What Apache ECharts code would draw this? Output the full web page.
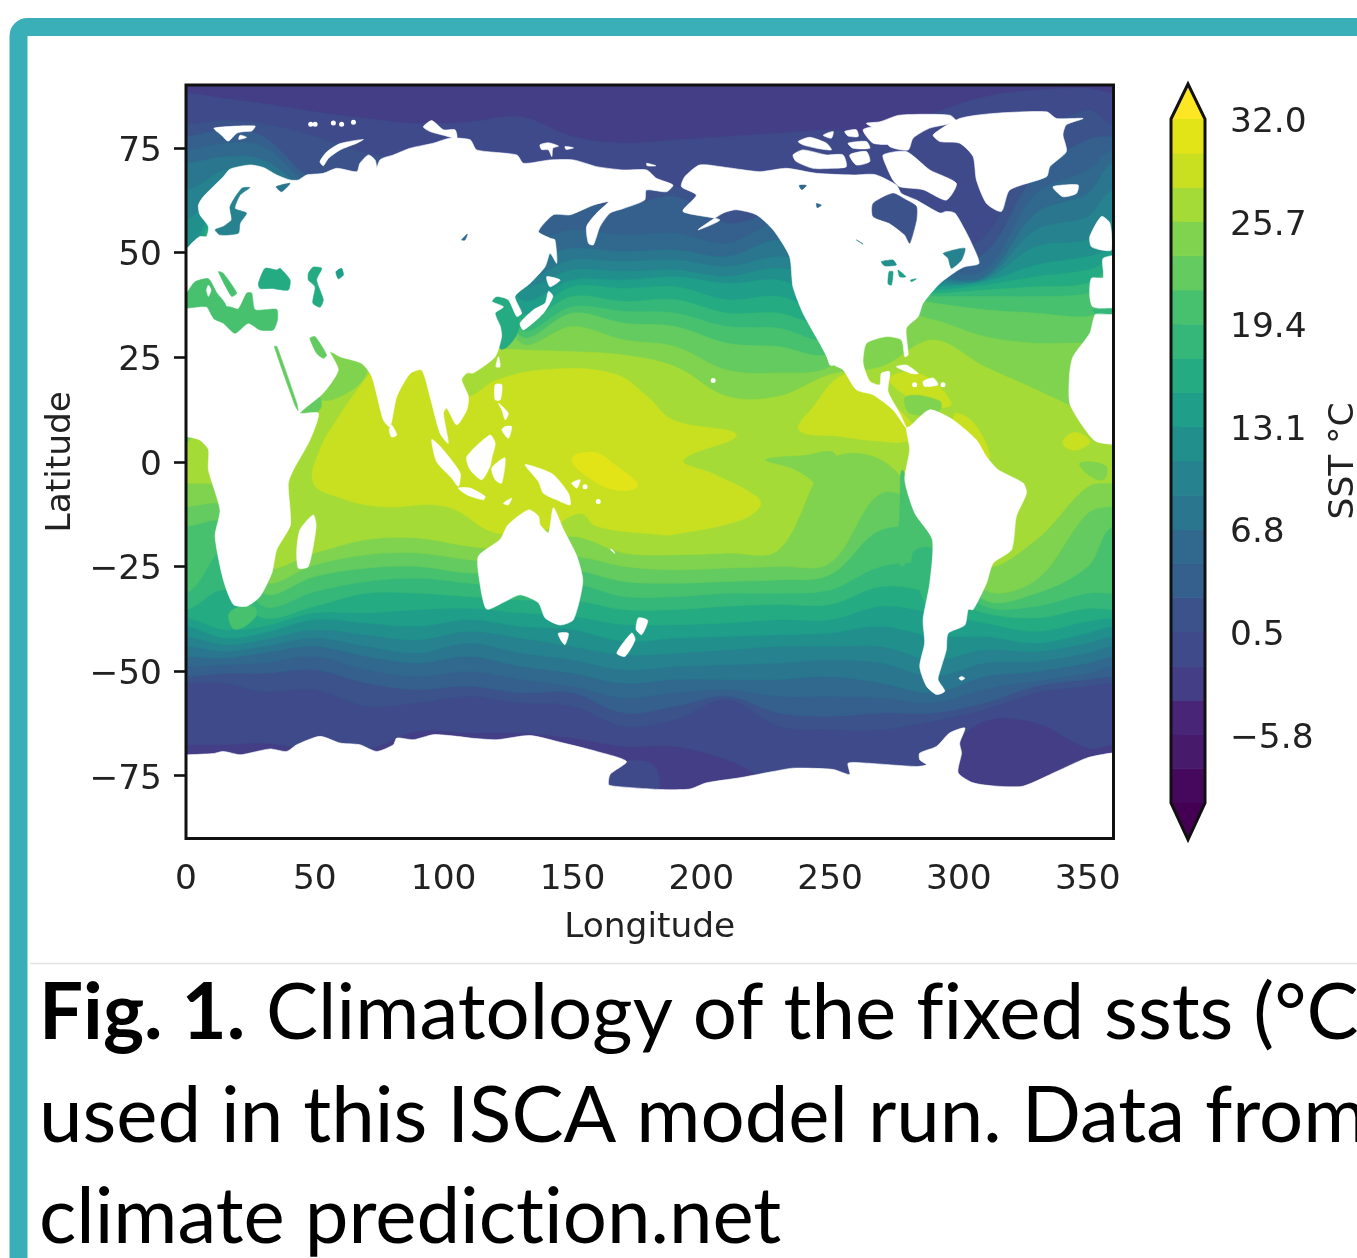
<!DOCTYPE html>
<html><head><meta charset="utf-8">
<style>html,body{margin:0;padding:0;background:#fff;overflow:hidden}#c{width:1357px;height:1258px;filter:blur(0.6px)}</style>
<script src="https://cdn.jsdelivr.net/npm/echarts@6/dist/echarts.min.js"></script>
</head><body><div id="c"></div>
<script>
const longitudeTicks=[0,50,100,150,200,250,300,350];
const latitudeTicks=[-75,-50,-25,0,25,50,75];
const colorbarTicks=[-5.8,0.5,6.8,13.1,19.4,25.7,32.0];
const contourLevels=[-10,-7.9,-5.8,-3.7,-1.6,0.5,2.6,4.7,6.8,8.9,11,13.1,15.2,17.3,19.4,21.5,23.6,25.7,27.8,29.9,32];
const bandColors=['#46085c','#481a6c','#482576','#433e85','#3f4a8a','#3b528b','#35608d','#31688e','#2a768e','#26828e','#21908d','#1f9e89','#25ab82','#35b779','#48c16e','#63cb5f','#7fd34e','#a5db36','#c8e020','#e3e418'];
const overColor='#fde725', underColor='#440154';

const stationLongitudes=[0,15,30,50,70,90,110,130,150,170,190,210,230,250,270,290,310,330,350,360];
const isothermLevels=[-1.6,0.5,2.6,4.7,6.8,8.9,11,13.1,15.2,17.3,19.4,21.5,23.6,25.7];
const southEdge=[
[-67.6,-67.6,-67.2,-68.8,-68.8,-64.4,-64.8,-64.8,-66,-68,-68,-71.2,-76.7,-76.7,-76.7,-71.2,-62,-62.4,-68.4,-67.6],
[-52.9,-52.9,-54.9,-54.4,-58.4,-57.6,-56,-57.6,-58.4,-63.2,-61.6,-56.8,-63.2,-64,-64,-62,-59.2,-55.2,-53.6,-52.9],
[-51.3,-50.5,-50.5,-49.7,-52.9,-54.4,-53.6,-55.2,-55.2,-60,-58.4,-56,-60,-60.8,-60,-60,-57.6,-53.6,-52,-51.3],
[-48.9,-48.5,-48.1,-46.5,-49.7,-51.3,-50.1,-52,-53.6,-56.4,-55.2,-54.4,-56,-56,-56.4,-57.6,-54.4,-52.4,-50.5,-48.9],
[-46.5,-46.9,-45.7,-44.1,-46.5,-48.1,-46.5,-48.9,-50.5,-52.9,-52,-52,-52,-51.3,-52.9,-55.2,-51.3,-50.1,-48.1,-46.5],
[-44.1,-45.3,-44.1,-42.1,-44.1,-45.7,-43.3,-45.7,-47.3,-49.7,-48.9,-48.5,-48.1,-47.3,-48.1,-51.3,-48.1,-47.7,-45.7,-44.1],
[-41.7,-43.7,-42.5,-40.1,-41.3,-42.5,-40.5,-42.1,-44.1,-46.1,-45.7,-44.9,-44.1,-44.1,-44.1,-47.3,-44.9,-45.3,-43.3,-41.7],
[-39.3,-42.1,-40.9,-37.7,-38.5,-39.3,-37.7,-39.3,-40.1,-42.9,-42.1,-41.7,-41.3,-40.9,-39.3,-41.7,-41.7,-43.3,-40.9,-39.3],
[-37.3,-40.1,-39.3,-36.1,-36.1,-35.3,-35,-36.1,-36.9,-38.9,-38.9,-38.5,-37.7,-37.7,-34.5,-36.1,-38.5,-40.5,-38.1,-37.3],
[-35.3,-30.6,-37.3,-34.5,-31.4,-31.4,-32.2,-33,-33,-35.3,-35.3,-34.5,-34.1,-34.1,-29.8,-31.4,-36.1,-37.3,-35,-35.3],
[-31.4,-21,-34.5,-31,-28.6,-27.8,-29,-29.8,-29,-32.2,-32.2,-31.4,-31.4,-30.6,-25,-25,-34.5,-34.5,-31.4,-31.4],
[-15.4,-14.6,-31.4,-27.4,-25.4,-25,-26.6,-26.6,-25.8,-28.6,-29,-28.6,-28.2,-27,-16.2,-17.8,-33,-31.4,-25,-15.4],
[-10.7,-10.7,-28.6,-24.6,-22.2,-21.8,-23.4,-24.2,-22.6,-25,-25.8,-25.4,-25,-24.2,-7.5,-13,-30.6,-28.2,-12.3,-10.7],
[-5.1,-6.7,-25,-21.8,-18.6,-18.2,-20.2,-21,-17.8,-21.8,-22.2,-21.8,-21,0.5,0.5,-13,-25,-18.6,-5.9,-5.1]];
const northEdge=[
[88,86.8,85.6,83.6,82,80.8,81.2,82.4,77.7,76.1,76.9,77.7,78.5,79.3,78.5,83.2,87.2,88.8,89.2,88],
[80.5,81.6,80.8,77.7,73.7,72.1,72.1,71.3,67.3,64.9,65.7,61,60.2,59.4,57.8,51.4,53.8,76.9,84,80.5],
[77.7,79.3,77.7,67.3,67.3,67.3,67.3,59.4,61.7,61,63.3,57,59.4,56.2,53,48.2,49.8,68.9,76.9,77.7],
[74.5,76.1,75.3,65.7,65.7,65.7,65.7,53,55.4,54.2,54.6,52.2,57,52.2,48.2,45.8,45.8,64.1,69.7,74.5],
[71.3,72.9,72.1,64.1,64.1,64.1,64.1,49,51,50.2,50.6,49,53,49,45.8,44.2,44.2,59.4,64.1,71.3],
[64.9,69.7,70.5,62.5,62.5,62.5,62.5,44.2,48.2,47.8,48.2,46.6,49,46.6,44.2,43.4,43.8,55.4,58.6,64.9],
[57.8,67.3,68.9,61,61,61,61,42.2,45.8,45.4,45.8,44.2,46.2,43.4,43.4,42.6,43.4,51.4,53,57.8],
[50.6,65.7,67.3,59.4,59.4,59.4,59.4,38.7,43.4,43.4,44.2,42.6,43.4,39.5,42.6,41.8,43,47,49,50.6],
[48.2,64.1,65.7,57.8,57.8,57.8,57.8,35.5,41.8,41.4,41.8,38.7,39.5,35.5,41.8,41,42.2,44.2,45.8,48.2],
[46.6,62.5,64.1,56.2,56.2,56.2,56.2,33.9,39.5,38.3,38.7,35.5,35.5,32.7,41,40.2,41,41.8,42.6,46.6],
[43.4,61,62.5,54.6,54.6,54.6,54.6,31.5,37,35.9,35.5,32.3,31.9,29.1,40.2,39.5,39.5,39.5,40.2,43.4],
[37,59.4,61,53,53,53,53,29.9,35.5,33.1,32.3,28.3,27.5,25.9,39.5,37.9,36.3,35.5,34.7,37],
[27.5,51.4,51.4,51.4,51.4,51.4,51.4,28.3,32.3,29.1,27.5,21.9,21.2,22.7,35.5,33.9,29.9,28.3,28.3,27.5],
[4.4,19.6,19.6,27.5,27.5,27.5,27.5,26.7,26.3,25.5,22.7,15.6,15.6,20.8,22.7,29.1,22.7,17.2,10.8,4.4]];

const warmPool278=[[49.4,-5],[52,2.9],[58.5,10],[67.5,18],[72.7,22],[80,26],[95,26],[100,20],[109,15.6],[120.6,19.5],[140,22],[166,21],[179,15.6],[189,10],[213.6,6.4],[193,0.4],[205,-3],[221.4,-8.3],[222.7,-10.7],[215,-14],[189,-17.4],[184,-17.4],[159.4,-15.4],[153,-12.3],[140,-16],[120.6,-17],[101,-10.7],[75.3,-10.7],[58.5,-8.3]];
const warmPool299=[[150,1],[153,2],[160,2],[167,-1],[175,-5],[174,-6.5],[165,-6.5],[157,-4],[151,-1]];
const eastPacificPool=[[238,7.6],[244,13.5],[253,20],[262,21],[270,16],[283,8],[280,5],[268,5],[255,6]];
const brazilPool=[[299,11.6],[306,9],[312,1],[307,1],[298,9]];
const guineaPool=[[340.4,5],[345,7],[350.8,5],[347,3],[342,3.2]];
const caribbeanPool=[[273,20],[285,21],[297,14],[290,13],[279,16]];
const caribbeanCool=[[279.6,15.6],[292.5,14.5],[292,12],[281,11.6]];
const equatorTongue=[[225,0.5],[240,1.5],[252,1.8],[252,-7.5],[247,-7],[242,-4],[235,-1.5]];
const peruCoast=[[278,-2],[283,-12],[289,-17],[289.5,-21],[282,-21],[278,-25],[276,-21],[277,-13]];
const chileCoast=[[282,-22],[289.5,-21],[289,-35],[285,-31]];
const guineaTongue=[[347,-0.3],[357,-1],[356,-4.3],[350,-3]];
const arabianSea=[[55.9,25.9],[67.5,25.1],[70.1,21.2],[62.4,16.4],[52,14.8],[50,19]];
const gulfOfAden=[[43.5,13],[51.4,15.5],[52,12.5],[44,10.6]];
const eastChinaSea=[[120,39.5],[125,38.7],[129,35],[128,30],[122,27],[119,35]];
const agulhasWarm=[[17,-36],[26,-34.5],[27,-37],[19,-40]];
const rossCorner=[[165,-73],[178,-71.5],[183,-74],[182.6,-78.5],[165,-78.5]];

const eurasiaAfrica=[[0.3,51],[2.2,52.2],[5.4,53.8],[8,53.8],[8.7,56.2],[5.4,59],[4.8,61.3],[6.7,63.3],[14.5,68.1],[17.1,69.9],[24.8,70.9],[30,70.3],[35.2,68.5],[40.4,67.3],[43.6,67.3],[46.8,68.5],[53.3,68.9],[58.5,70.1],[66.3,69.3],[67.5,71.3],[70.8,73.3],[73.4,72.1],[74,69.7],[72.7,66.9],[75.3,72.1],[80.5,73.3],[87,74.9],[96,76.1],[102.5,77.3],[110.3,76.9],[112.8,74.5],[128.4,73.3],[131,71.3],[141.3,72.1],[150.4,72.1],[159.4,70.5],[169.8,69.7],[178.8,69.7],[182.6,67.7],[189,66.1],[186.5,64.5],[178.7,64.9],[178,62.5],[169.8,60.5],[164.6,59.4],[160.7,56.2],[158.1,51.8],[156.2,52.2],[155.5,56.2],[159.4,59.4],[164,62.1],[158.1,61.3],[149.1,59],[142.6,59],[136.8,55],[141.3,53.4],[143.2,53],[143.9,47.4],[141.3,49.8],[139.4,46.6],[133.5,42.6],[127.7,39.5],[130.3,35.5],[128.4,34.7],[125.1,38.7],[120.6,39.5],[118.7,38.3],[123.2,37],[120,35.5],[122,32.3],[122.5,29.9],[120,25.1],[111.5,21.2],[109,21.2],[107,19.6],[109.6,15.6],[109,12.4],[105.1,8.8],[101.2,12.8],[99.9,11.6],[101.8,4.4],[98.6,6.8],[94.7,15.6],[91.5,21.9],[87,21.1],[81.8,15.6],[79.2,8.4],[76.6,10],[72.1,20.4],[68.2,23.5],[59.8,25.1],[55.9,26.3],[59.1,21.9],[53.3,16.4],[44.3,11.6],[51.4,11.6],[48.1,5.2],[41.7,-1.9],[39.7,-5.1],[40.4,-11.5],[40.4,-15.4],[35.2,-21],[33.3,-26.6],[28.7,-32.2],[23.6,-34.5],[18.4,-34.1],[14.5,-28.2],[11.3,-17.8],[13.2,-11.5],[8.7,-1.9],[8.7,2.9],[5.4,5.2],[0.3,6],[-5,6],[-5,51]];
const westAfrica=[[365,35.5],[353.4,35.5],[350.8,30.7],[344.3,25.1],[343,21.2],[343,14],[348.2,8.4],[353.4,4.8],[365,4.8]];
const iberiaFrance=[[351.4,43.8],[356,44],[356,48.6],[365,49],[365,36.7],[352.1,37],[350.8,39.5]];
const britain=[[350.8,53.8],[355.3,58.6],[358.6,57],[359.2,50.6],[355.3,50.6],[351.4,51.4]];
const iceland=[[336.5,65.7],[340.4,66.1],[346.3,66.1],[345.6,64.1],[340.4,63.3],[337.2,64.9]];
const greenland=[[290,78.1],[300.3,82],[313.3,83.2],[334,83.6],[337.9,82],[348.2,82],[341.7,80.5],[340.4,78.1],[341.7,74.1],[335.3,70.5],[334,68.1],[319.7,64.9],[316.5,59.8],[310.7,61.7],[306.8,67.3],[305.5,72.9],[300.3,76.1],[292.6,76.5]];
const ellesmere=[[269.3,81.2],[277,82.8],[296.4,82.8],[299,81.2],[288.7,79.7],[282.2,77.3],[280.3,74.5],[273.1,75.3],[270.6,78.5],[264.1,80.8]];
const baffin=[[270.6,73.3],[279.6,74.1],[288.7,69.7],[299,66.5],[295.1,62.5],[286.1,65],[277,65.7],[274.4,67.3],[271.9,70.5]];
const arcticIslands=[
[[237.6,76.5],[242.1,77.5],[248.6,76.1],[250.5,74.5],[244.7,74.9],[239.5,75.7]],
[[235.6,73.3],[239.5,74.5],[248.6,73.3],[255,73.3],[256.3,70.5],[251.2,70.1],[243.4,70.1],[236.9,71.7]],
[[247.3,78],[251.2,78.9],[250.5,77.3]],
[[255.7,78.9],[260.2,79.3],[260.9,77.7],[257,77.8]],
[[257,76.1],[264.1,76.5],[265.4,74.9],[258.9,74.9]],
[[257.6,73.3],[264.1,74.1],[265.4,71.7],[260.2,70.9]],
[[262.8,79.3],[269.3,80],[274.4,76.1],[266.7,76.1]]];
const northAmerica=[[193.6,68.1],[199.4,70.9],[209.7,70.3],[222.7,69.3],[233,70.1],[244.7,68.9],[258.9,68.5],[267.4,68.6],[275.7,66.1],[277.7,64.1],[283.5,62.5],[292.6,59.4],[295.1,59.8],[298.4,59.4],[302.3,55.4],[304.9,52.2],[307.8,47.4],[302.3,46.6],[299.7,45.8],[292.6,42.6],[286.1,37.9],[284.2,34.7],[279.6,31.9],[280.3,25.5],[279,25.1],[277.7,29.1],[271.9,29.9],[264.1,28.3],[262.8,23.6],[265.4,19.2],[269.3,18.4],[269.9,21.1],[273.1,21.5],[272.5,16.8],[277,11.6],[279.6,8],[274.4,12.4],[266.7,16],[260.2,17.2],[255,22],[250.5,23.5],[246,28.3],[239.5,35.5],[235.6,41.8],[234.3,49],[227.9,55.4],[221.4,59],[213.6,60.2],[208.5,59.4],[198.7,55.4],[207.2,57.8],[192.9,59.8],[198.1,63.7],[192.3,65.7]];
const bajaCalifornia=[[246,31.1],[247.3,30.7],[251.2,23.1],[249.9,23.1]];
const cuba=[[275.7,22.7],[279.6,23.1],[284.2,21.1],[281.6,21.1]];
const hispaniola=[[286.1,19.2],[290,20],[291.9,18.4],[286.7,18]];
const southAmerica=[[279.6,8],[280.9,8.4],[288.7,12.4],[297.7,10],[306.8,5.2],[310.7,1.2],[315.2,-1.9],[324.9,-5.1],[326.2,-7.5],[322.3,-13],[320.4,-21],[313.3,-24.2],[310.7,-29],[305.5,-35.3],[303.6,-35.3],[302.3,-39],[295.8,-41],[295.1,-44.9],[293.2,-48.9],[291.9,-52],[294.5,-54.8],[291.3,-55.6],[287.4,-53.6],[284.8,-48.9],[286.7,-43.3],[286.1,-37.7],[288.7,-29],[289.7,-18.6],[282.9,-12.3],[279,-4.3],[280.9,2.9]];
const antarctica=[[-5,-70],[0.3,-70],[10.6,-69.7],[14.5,-69.2],[21,-70],[26.1,-69.4],[32.6,-68.6],[39.1,-69.2],[43,-67.6],[52,-65.6],[59.8,-67.2],[67.5,-67.6],[74,-69.2],[80.5,-67.6],[81.8,-66],[88.3,-66.4],[96,-65.2],[105.1,-65.6],[110.3,-66],[120.6,-66.4],[133.5,-65.4],[146.5,-67.2],[159.4,-69.2],[171,-71.6],[164.6,-74.7],[164,-77.1],[165.9,-77.5],[184,-78.3],[195.5,-78.2],[202,-76.7],[214.9,-75.5],[227.9,-74],[235.6,-73.2],[251.2,-73.5],[257.6,-74.7],[257,-72],[264.1,-72],[283.5,-72.8],[287.4,-72.4],[284.8,-71.2],[284.8,-69.6],[291.3,-68],[296.4,-64.8],[302.3,-63.6],[300.3,-67.2],[301,-69.6],[299.7,-74.3],[305.5,-76.7],[314.6,-77.5],[324.9,-77.5],[337.9,-74],[349.5,-70.8],[359.2,-69.6],[365,-69.6],[365,-95],[-5,-95]];
const madagascar=[[49.4,-12.7],[50.5,-15.4],[47.5,-25],[43.6,-25.4],[43,-21],[44.3,-16.2]];
const australia=[[113.5,-22.6],[121.9,-18.6],[125.1,-15],[132.9,-11.5],[136.8,-13],[137.4,-15],[140.7,-17],[142.6,-11],[146.5,-16.2],[151.7,-22.6],[154,-28.6],[150.4,-37.7],[145.2,-39],[139.4,-37.3],[136.8,-33.7],[129.7,-31.8],[123.8,-33.4],[116.7,-35.2],[114.1,-29]];
const smallIslands=[
[[144.5,-41],[148.4,-41],[147.1,-43.7],[145.8,-42.9]],
[[175.6,-37.3],[179.2,-37.9],[176.9,-41.3],[174.7,-40.1]],
[[173,-40.9],[174.3,-42.5],[170.4,-46.5],[167.2,-45.7]],
[[109,1.2],[118,6.4],[120,4.4],[118.7,1],[118,-1.1],[114.8,-4.3],[110.3,-1.9]],
[[95.4,5.3],[98.9,3.5],[106.4,-2.7],[105.7,-5.9],[103.1,-3.9],[97.3,0]],
[[105.7,-6.3],[110.3,-6.3],[116.1,-8.3],[115.4,-9.1],[109,-7.9]],
[[118.7,-1.5],[123.8,0.9],[122.5,-5.1],[120,-4.3]],
[[120,18.4],[122.6,18.4],[122,14.8],[120,14.8]],
[[123.9,8.4],[126.4,8.4],[125.1,5.6],[122.6,7.6]],
[[121.3,14],[125.1,11.6],[123.9,10],[122.6,12.4]],
[[121.3,25.1],[121.9,22.7],[120.3,22.7]],
[[79.8,8.8],[81.8,6.4],[79.8,5.9],[78.9,7.6]],
[[140.7,40.7],[142.4,39.5],[138.7,35.5],[131,31.5],[129.7,33.1],[134.9,36.3],[139.4,37.9]],
[[140,44.2],[145.2,43.4],[141.3,41.8]],
[[131.6,-0.7],[136.8,-1.5],[142.6,-3.1],[148.4,-7.5],[149.1,-10.3],[143.9,-9.1],[138.7,-7.5],[136.8,-4.7]],
[[149.7,-5.1],[153,-4.3],[151.7,-6.3]],
[[123.2,-9.9],[126.4,-8.7],[125.1,-10.3]],
[[300,-51.7],[301,-51.3],[302.3,-51.7],[301,-52.2]],
[[164.6,-20.9],[166.5,-21.9],[165.5,-21]],
[[10.9,79.7],[26.8,80.2],[25.5,79],[22.9,78.9],[19.7,78.5],[16.4,76.6],[13.8,78]],
[[21,78],[23.5,77.5],[20.5,77]],
[[52,71.7],[54.6,74],[59.8,76],[68.8,77],[66.3,76.1],[59.8,74.5],[55.3,72.5],[53.3,70.7]],
[[92.1,80],[95.4,81.5],[99.9,79.3],[104.4,79.3],[105.1,77.3],[99.9,78],[94.7,78.9]],
[[137.4,75.7],[140.7,76.2],[144.6,75.4],[142.4,74.9],[142,72.9],[140.7,74.5],[138,74.6]],
[[147.1,75.3],[150.4,75],[147.5,74.6]],
[[178.8,71.3],[182.4,70.7],[179,70.7]]];
const tinyIslands=[[48.4,80.6],[50.1,80.6],[57.2,80.9],[60.4,80.6],[65,81.1],[204.6,19.4],[154.9,-6],[160,-9.5],[282.8,18.4],[293.8,18.4]];

const westMediterranean=[[-5,36.5],[0.3,40.3],[3.5,43],[8.7,43.7],[12,40.3],[15,38],[16,36],[10.6,34.5],[8,37],[0.3,36.7]];
const eastMediterranean=[[11.5,37],[17,37],[20.3,36.5],[23.6,40.3],[25.5,40.3],[26.8,36.3],[35.2,36.4],[35.5,33.9],[33.9,31.5],[28.7,31.5],[24.2,33.1],[19,30.7],[14.5,33.1],[10.6,34.3]];
const adriatic=[[12.6,45.4],[14.5,45],[19.7,40.3],[17.7,39.5]];
const corsica=[[8.7,42.2],[9.7,41],[8.7,39.5],[8,41]];
const alboran=[[352.1,36.3],[365,36.7],[365,35.5],[353,35.4]];
const blackSea=[[28.1,42.6],[30.7,46.2],[35.2,45.8],[36.5,46.2],[40.4,43.4],[39.7,41],[33.3,41.4],[28.7,41.4]];
const caspianSea=[[47.5,45],[49.4,46.5],[52.7,46.2],[50.7,43.4],[53.3,38.7],[52,36.9],[49.2,37.9],[50.1,41.8],[47.5,43.4]];
const aralSea=[[58.2,45.4],[60.4,46.2],[61.1,44.6],[59.1,43.7]];
const lakeBaikal=[[107,53],[109.2,54.4],[108.3,53]];
const balticSea=[[17.1,61],[21.6,65.3],[24.8,65.5],[21,63.7],[19,60.5],[23.5,59.4],[21,57],[20.3,54.6],[13.2,54.2],[11.3,55.4],[14.5,56.2],[17.7,57.8]];
const whiteSea=[[35,65.7],[40.4,66.5],[37.1,64.5]];
const redSea=[[34.3,27.5],[35.3,27.5],[43,14],[43.5,12.2],[42.3,13.5]];
const persianGulf=[[48.1,29.5],[50.1,29.9],[54.6,25.5],[53.3,24.7],[50.7,25.9]];
const hudsonBay=[[266.7,61.7],[274.4,64.1],[279.6,62.5],[283.5,61],[283.5,57.8],[280.9,52.2],[279,54.2],[273.1,57],[266.7,58.6]];
const gulfStLawrence=[[293.9,49.8],[302.3,51],[301,48.2],[297.1,46.2],[295.8,48.6]];
const lakeSuperior=[[269.9,47.8],[274.4,48.2],[275.7,47],[271.2,46.8]];
const lakeMichigan=[[272.9,45.4],[274.4,45.4],[273.8,42.2],[272.5,42.5]];
const lakeHuron=[[276.4,45.8],[279.4,44.2],[277,44.2]];
const lakeOntario=[[281.2,43.4],[283.5,43.7],[281.6,43]];
const lakeSlave=[[238,66],[240.8,66],[239,65]];
const lakeBear=[[244.7,61.7],[246.6,61.3],[245,60.7]];
const lakeWinnipeg=[[260.2,53],[262.8,52],[261.5,52.5]];

// The caption font would otherwise join "fi" and "ti"; the reference does not.
const drawText=CanvasRenderingContext2D.prototype.fillText;
CanvasRenderingContext2D.prototype.fillText=function(){
  if('textRendering' in this)this.textRendering='optimizeSpeed';
  return drawText.apply(this,arguments);
};

const band=v=>bandColors[contourLevels.indexOf(v)];
function isothermOutline(i){
  const s=southEdge[i],n=northEdge[i],pts=[[-30,s[0]]];
  stationLongitudes.forEach((x,k)=>pts.push([x,s[k]]));
  pts.push([390,s[s.length-1]],[390,n[n.length-1]]);
  for(let k=stationLongitudes.length-1;k>=0;k--)pts.push([stationLongitudes[k],n[k]]);
  pts.push([-30,n[0]]);
  return pts;
}
const fieldShapes=[{pts:[[-30,-100],[390,-100],[390,100],[-30,100]],fill:band(-3.7)}];
isothermLevels.forEach((lv,i)=>fieldShapes.push({pts:isothermOutline(i),fill:band(lv),smooth:0.35}));
[[warmPool278,27.8],[warmPool299,29.9],[eastPacificPool,27.8],[brazilPool,27.8],[guineaPool,27.8],[caribbeanPool,27.8],[caribbeanCool,23.6],[equatorTongue,23.6],[peruCoast,19.4],[chileCoast,17.3],[guineaTongue,23.6],[arabianSea,23.6],[gulfOfAden,21.5],[eastChinaSea,15.2],[agulhasWarm,19.4],[rossCorner,-1.6]].forEach(([p,lv])=>fieldShapes.push({pts:p,fill:band(lv),smooth:0.4}));
const landList=[eurasiaAfrica,westAfrica,iberiaFrance,britain,iceland,greenland,ellesmere,baffin,...arcticIslands,northAmerica,bajaCalifornia,cuba,hispaniola,southAmerica,antarctica,madagascar,australia,...smallIslands];
const landShapes=landList.map(p=>({pts:p,fill:'#ffffff',smooth:0.22}));
const seaShapes=[[westMediterranean,19.4],[eastMediterranean,19.4],[adriatic,19.4],[alboran,17.3],[blackSea,15.2],[caspianSea,15.2],[aralSea,13.1],[lakeBaikal,4.7],[balticSea,8.9],[whiteSea,6.8],[redSea,21.5],[persianGulf,21.5],[hudsonBay,0.5],[gulfStLawrence,8.9],[lakeSuperior,11],[lakeMichigan,13.1],[lakeHuron,13.1],[lakeOntario,13.1],[lakeSlave,4.7],[lakeBear,4.7],[lakeWinnipeg,6.8]].map(([p,lv])=>({pts:p,fill:band(lv),smooth:0.2}));
seaShapes.push({pts:corsica,fill:'#ffffff',smooth:0.2});

function polySeries(shapes,z){
  return {type:'custom',xAxisIndex:0,yAxisIndex:0,clip:true,silent:true,animation:false,z,
    data:shapes.map((s,i)=>[i,0]),
    renderItem(params,api){const s=shapes[params.dataIndex];
      return {type:'polygon',shape:{points:s.pts.map(p=>api.coord(p)),smooth:s.smooth||0},style:{fill:s.fill,stroke:s.fill,lineWidth:0.6}};}};
}
const minusFmt=v=>String(v).replace('-','\u2212');
const fontFam='"DejaVu Sans"';
const fs=34.4;
const option={
  backgroundColor:'#fff',animation:false,
  grid:[{left:186,top:85,width:927.5,height:753.5,outerBoundsMode:'none'},{left:1171,top:119,width:34,height:684,outerBoundsMode:'none'}],
  xAxis:[{type:'value',gridIndex:0,min:0,max:360,splitLine:{show:false},axisLine:{show:false},
      axisTick:{show:true,customValues:longitudeTicks,length:12,lineStyle:{color:'#111',width:2.6}},
      axisLabel:{customValues:longitudeTicks,color:'#222',fontFamily:fontFam,fontSize:fs,margin:25,showMinLabel:true,showMaxLabel:true},
      name:'Longitude',nameLocation:'middle',nameGap:73,nameTextStyle:{color:'#222',fontFamily:fontFam,fontSize:fs}},
    {type:'value',gridIndex:1,min:0,max:1,show:false}],
  yAxis:[{type:'value',gridIndex:0,min:-90,max:90,splitLine:{show:false},axisLine:{show:false},
      axisTick:{show:true,customValues:latitudeTicks,length:12,lineStyle:{color:'#111',width:2.6}},
      axisLabel:{customValues:latitudeTicks,color:'#222',fontFamily:fontFam,fontSize:fs,margin:24,verticalAlign:'top',lineHeight:8,formatter:minusFmt},
      name:'Latitude',nameLocation:'middle',nameGap:108,nameRotate:90,nameTextStyle:{color:'#222',fontFamily:fontFam,fontSize:fs}},
    {type:'value',gridIndex:1,position:'right',min:-10,max:32,splitLine:{show:false},axisLine:{show:false},
      axisTick:{show:true,customValues:colorbarTicks,length:11,lineStyle:{color:'#111',width:2.6}},
      axisLabel:{customValues:colorbarTicks,color:'#222',fontFamily:fontFam,fontSize:fs,margin:25,verticalAlign:'top',lineHeight:8,formatter:v=>minusFmt(Number(v).toFixed(1))},
      name:'SST \u00b0C',nameLocation:'middle',nameGap:122,nameRotate:90,nameTextStyle:{color:'#222',fontFamily:fontFam,fontSize:fs}}],
  graphic:[
    {type:'rect',z:0,shape:{x:18.5,y:27,width:1600,height:1600,r:9},style:{fill:'#fff',stroke:'#3bafb7',lineWidth:18}},
    {type:'line',z:1,shape:{x1:30,y1:963.5,x2:1357,y2:963.5},style:{stroke:'#e4e4e4',lineWidth:1.5}},
    {type:'text',z:5,style:{text:'Fig. 1.',x:39,y:974.5,font:'700 78px Lato',fill:'#000'}},
    {type:'text',z:5,style:{text:'Climatology of the fixed ssts (\u00b0C)',x:266,y:974.5,font:'78px Lato',fill:'#000'}},
    {type:'text',z:5,style:{text:'used in this ISCA model run. Data from',x:39,y:1077.5,font:'78px Lato',fill:'#000'}},
    {type:'text',z:5,style:{text:'climate prediction.net',x:39,y:1178.5,font:'78px Lato',fill:'#000'}}
  ],
  series:[
    polySeries(fieldShapes,2),
    polySeries(landShapes,3),
    polySeries(seaShapes,4),
    {type:'scatter',xAxisIndex:0,yAxisIndex:0,z:5,silent:true,symbolSize:5,itemStyle:{color:'#fff',opacity:1},data:tinyIslands},
    {type:'custom',xAxisIndex:0,yAxisIndex:0,clip:false,silent:true,z:6,data:[[0,-90,360,90]],
      renderItem(p,api){const a=api.coord([api.value(0),api.value(1)]),b=api.coord([api.value(2),api.value(3)]);
        return {type:'rect',shape:{x:a[0],y:b[1],width:b[0]-a[0],height:a[1]-b[1]},style:{fill:'none',stroke:'#111',lineWidth:3}};}},
    {type:'custom',xAxisIndex:1,yAxisIndex:1,clip:false,silent:true,z:5,
      data:bandColors.map((c,i)=>[0,contourLevels[i],1,contourLevels[i+1]]),
      renderItem(p,api){const a=api.coord([api.value(0),api.value(1)]),b=api.coord([api.value(2),api.value(3)]);
        const c=bandColors[p.dataIndex];
        return {type:'rect',shape:{x:a[0],y:b[1],width:b[0]-a[0],height:a[1]-b[1]},style:{fill:c,stroke:c,lineWidth:0.8}};}},
    {type:'custom',xAxisIndex:1,yAxisIndex:1,clip:false,silent:true,z:6,data:[[0,1,32,-10,34.15,-12.25]],
      renderItem(p,api){const x0=api.value(0),x1=api.value(1),hi=api.value(2),lo=api.value(3),ah=api.value(4),al=api.value(5);
        const c=(x,y)=>api.coord([x,y]);
        const mid=(x0+x1)/2;
        return {type:'group',children:[
          {type:'polygon',shape:{points:[c(x0,hi),c(mid,ah),c(x1,hi)]},style:{fill:overColor}},
          {type:'polygon',shape:{points:[c(x0,lo),c(mid,al),c(x1,lo)]},style:{fill:underColor}},
          {type:'polygon',shape:{points:[c(x0,hi),c(mid,ah),c(x1,hi),c(x1,lo),c(mid,al),c(x0,lo)]},style:{fill:'none',stroke:'#111',lineWidth:3,lineJoin:'miter'}}
        ]};}}
  ]
};
const chart=echarts.init(document.getElementById('c'),null,{renderer:'canvas'});
chart.setOption(option);
</script></body></html>
